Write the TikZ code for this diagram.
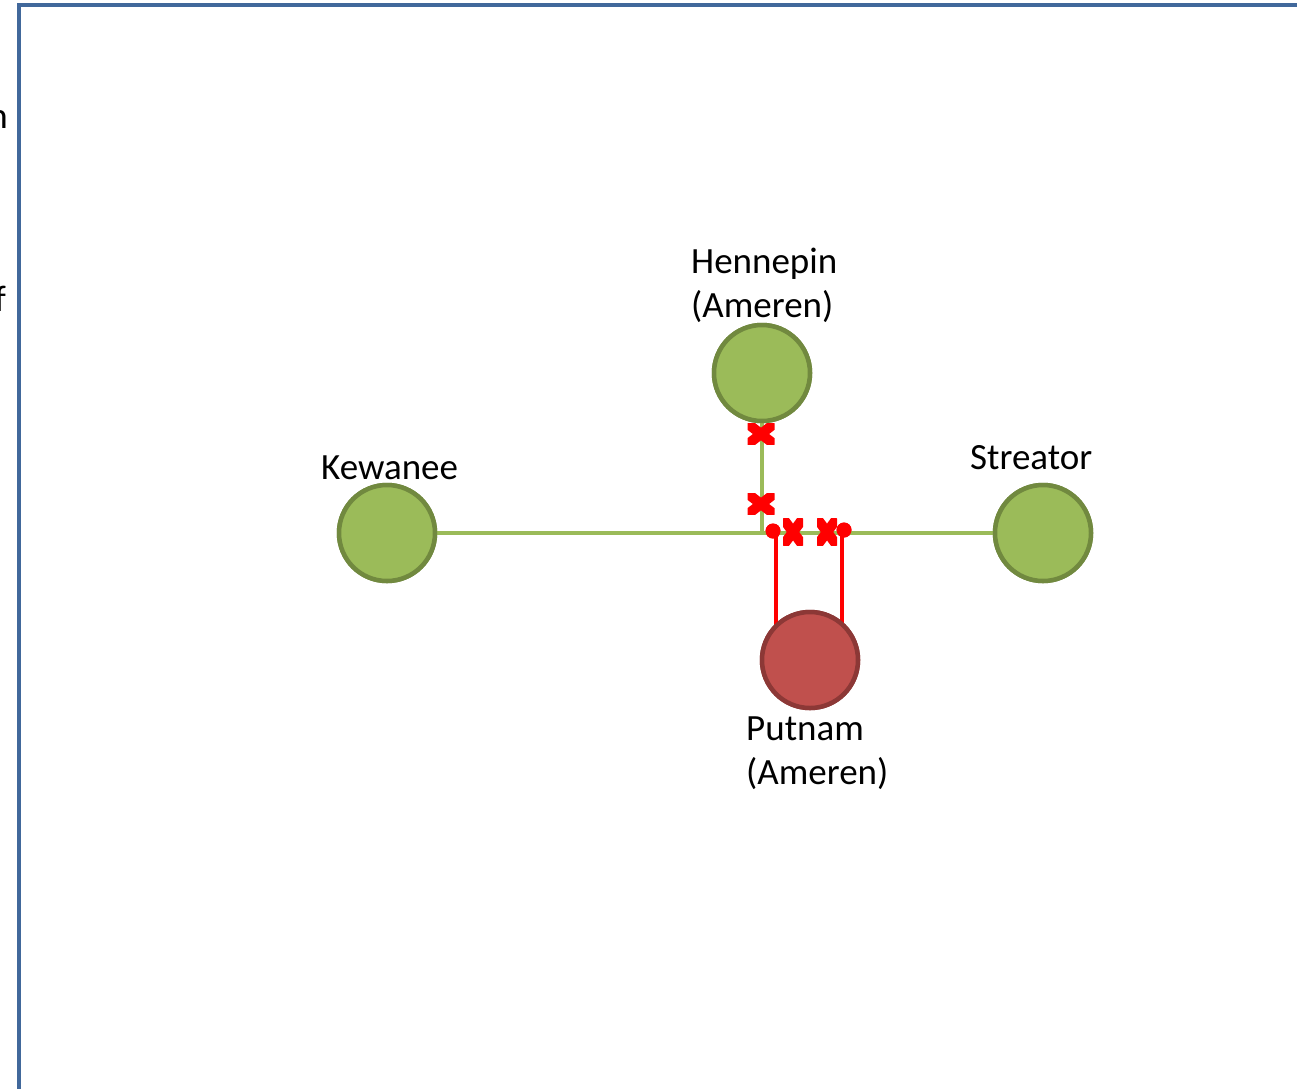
\documentclass[tikz,border=0pt]{standalone}
\usepackage{fontspec}
\setmainfont{Carlito}
\definecolor{gfill}{RGB}{155,187,89}
\definecolor{gedge}{RGB}{113,137,63}
\definecolor{rfill}{RGB}{192,80,77}
\definecolor{redge}{RGB}{140,56,54}
\definecolor{frame}{RGB}{65,104,155}
\definecolor{gline}{RGB}{155,187,89}
\tikzset{
  lbl/.style={font=\fontsize{37}{44}\selectfont, inner sep=0, align=left},
  station/.style={circle, minimum size=96, inner sep=0, line width=4.5, draw=gedge, fill=gfill},
  load/.style={station, draw=redge, fill=rfill},
  feed/.style={line width=3.5, draw=gline},
  tap/.style={line width=3.5, draw=red},
  dotnode/.style={circle, fill=red, minimum size=15, inner sep=0},
  breaker/.style={inner sep=0, path picture={\draw[red, line width=10] (path picture bounding box.south west) -- (path picture bounding box.north east) (path picture bounding box.north west) -- (path picture bounding box.south east);}},
  hbrk/.style={breaker, minimum width=27, minimum height=21},
  vbrk/.style={breaker, minimum width=20, minimum height=27},
}
\begin{document}
\begin{tikzpicture}[x=1pt,y=-1pt]
\useasboundingbox (0,0) rectangle (1297,1088);
% frame
\draw[line width=4, frame] (19,1095) -- (19,5) -- (1305,5);
% cut-off text
\node[lbl, anchor=base east] (cn) at (8,128) {n};
\node[lbl, anchor=base east] (cf) at (6,311) {f};
% junction
\coordinate (J) at (762,533);
% stations
\node[station] (K) at (387,533) {};
\node[station] (S) at (1043,533) {};
\node[station] (H) at (762,373) {};
\node[load] (P) at (810,660) {};
% dots
\node[dotnode] (d1) at (773,531) {};
\node[dotnode] (d2) at (844,530) {};
% green lines
\draw[feed] (K.east) -- (S.west);
\draw[feed] (H.south) -- (J);
% red taps
\draw[tap] (d1.center) ++(3,0) -- ++(0,100);
\draw[tap] (d2.center) ++(-2,1) -- ++(0,100);
% redraw stations on top of connectors
\node[station] at (K) {};
\node[station] at (S) {};
\node[station] at (H) {};
\node[load] at (P) {};
\node[dotnode] at (d1) {};
\node[dotnode] at (d2) {};
% breakers
\node[hbrk] (b1) at (761,434) {};
\node[hbrk] (b2) at (761,504) {};
\node[vbrk] (b3) at (793,532) {};
\node[vbrk] (b4) at (827,532) {};
% labels
\node[lbl, anchor=west] (tH) at (691,285) {Hennepin\\(Ameren)};
\node[lbl, anchor=west] (tK) at (321,468) {Kewanee};
\node[lbl, anchor=west] (tS) at (970,458) {Streator};
\node[lbl, anchor=west] (tP) at (746,753) {Putnam\\(Ameren)};
\end{tikzpicture}
\end{document}
